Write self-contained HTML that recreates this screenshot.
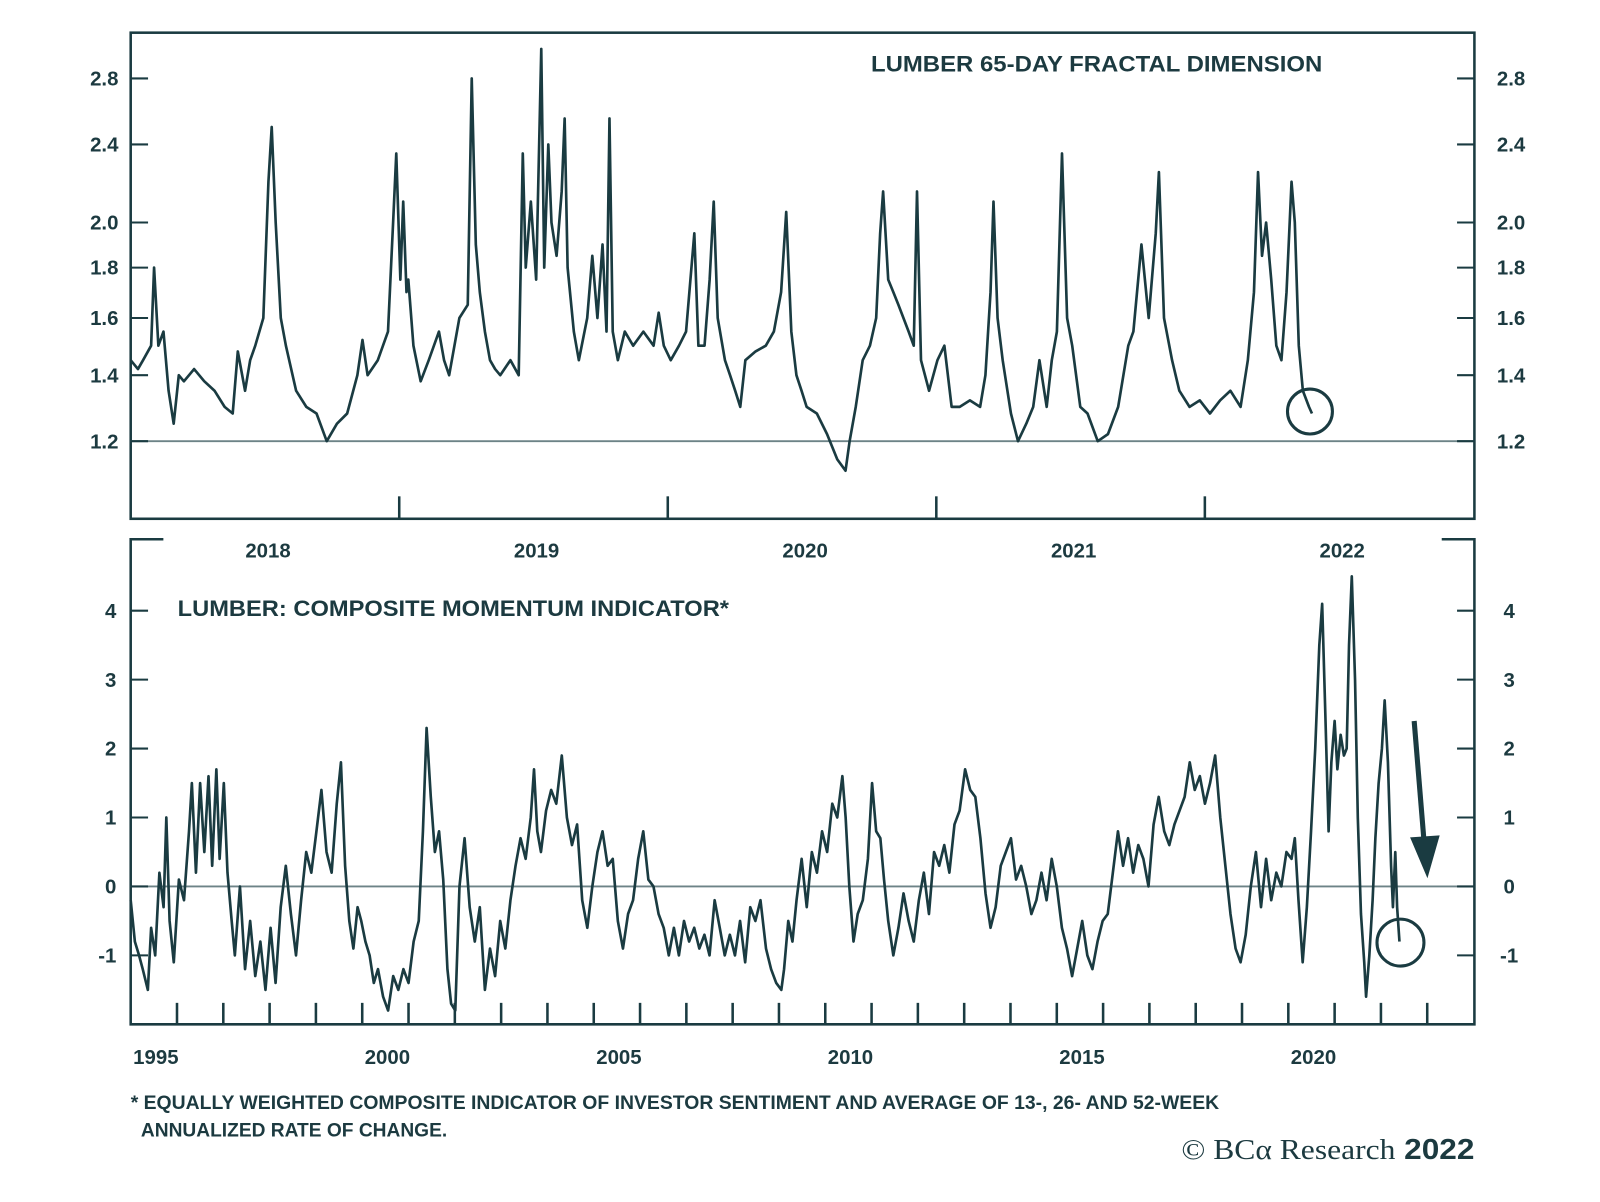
<!DOCTYPE html>
<html><head><meta charset="utf-8"><style>
html,body{margin:0;padding:0;background:#fff;}
svg{display:block;}
text{font-family:"Liberation Sans",sans-serif;fill:#1c3a40;}
</style></head><body>
<svg id="chart" width="1600" height="1202" viewBox="0 0 1567 1177" preserveAspectRatio="none" xmlns="http://www.w3.org/2000/svg">
<g id="top"></g>
<g id="bot"></g>
<text x="853" y="70" font-size="22" font-weight="bold" textLength="442" lengthAdjust="spacingAndGlyphs">LUMBER 65-DAY FRACTAL DIMENSION</text>
<text x="174" y="603" font-size="22" font-weight="bold" textLength="540" lengthAdjust="spacingAndGlyphs">LUMBER: COMPOSITE MOMENTUM INDICATOR*</text>
<text x="128" y="1086" font-size="19" font-weight="bold" textLength="1066" lengthAdjust="spacingAndGlyphs">* EQUALLY WEIGHTED COMPOSITE INDICATOR OF INVESTOR SENTIMENT AND AVERAGE OF 13-, 26- AND 52-WEEK</text>
<text x="138" y="1113" font-size="19" font-weight="bold" textLength="300" lengthAdjust="spacingAndGlyphs">ANNUALIZED RATE OF CHANGE.</text>
<text x="1157" y="1135" font-size="28" textLength="287" lengthAdjust="spacingAndGlyphs"><tspan font-family="Liberation Serif,serif">© BCα Research</tspan> <tspan font-weight="bold">2022</tspan></text>
</svg>
<script>
// ---- top panel data (fractal dimension) ----
const topStartYear=2017.5;
const topOffsets=[0,.027,.046,.076,.087,.103,.122,.141,.160,.179,.198,.236,.274,.312,.350,.380,.399,.426,.445,.464,.494,.513,.525,.540,.559,.578,.616,.654,.692,.730,.768,.806,.844,.863,.882,.920,.958,.977,.989,1.004,1.015,1.027,1.034,1.053,1.080,1.110,1.148,1.167,1.186,1.224,1.255,1.270,1.285,1.300,1.319,1.338,1.357,1.376,1.414,1.445,1.460,1.471,1.490,1.510,1.529,1.540,1.555,1.567,1.586,1.605,1.616,1.627,1.650,1.669,1.700,1.719,1.738,1.757,1.772,1.783,1.795,1.814,1.840,1.871,1.909,1.947,1.966,1.985,2.011,2.042,2.068,2.099,2.114,2.137,2.156,2.171,2.186,2.213,2.232,2.251,2.270,2.289,2.327,2.365,2.395,2.422,2.441,2.460,2.479,2.498,2.517,2.555,2.593,2.631,2.662,2.677,2.700,2.726,2.753,2.776,2.791,2.802,2.821,2.840,2.859,2.897,2.916,2.928,2.943,2.973,3.004,3.030,3.057,3.087,3.125,3.163,3.183,3.202,3.213,3.228,3.247,3.278,3.304,3.335,3.361,3.384,3.411,3.430,3.449,3.468,3.487,3.506,3.536,3.563,3.601,3.639,3.677,3.715,3.734,3.764,3.791,3.817,3.829,3.848,3.878,3.905,3.943,3.981,4.019,4.057,4.095,4.133,4.160,4.183,4.198,4.213,4.228,4.247,4.266,4.285,4.304,4.323,4.335,4.350,4.365,4.388,4.399];
const topValues=[1.45,1.42,1.45,1.5,1.8,1.5,1.55,1.35,1.25,1.4,1.38,1.42,1.38,1.35,1.3,1.28,1.48,1.35,1.45,1.5,1.6,2.2,2.5,2.0,1.6,1.5,1.35,1.3,1.28,1.2,1.25,1.28,1.4,1.52,1.4,1.45,1.55,2.0,2.35,1.75,2.1,1.7,1.75,1.5,1.38,1.45,1.55,1.45,1.4,1.6,1.65,2.8,1.9,1.7,1.55,1.45,1.42,1.4,1.45,1.4,2.35,1.8,2.1,1.75,3.0,1.8,2.4,2.0,1.85,2.15,2.55,1.8,1.55,1.45,1.6,1.85,1.6,1.9,1.55,2.55,1.55,1.45,1.55,1.5,1.55,1.5,1.62,1.5,1.45,1.5,1.55,1.95,1.5,1.5,1.75,2.1,1.6,1.45,1.4,1.35,1.3,1.45,1.48,1.5,1.55,1.7,2.05,1.55,1.4,1.35,1.3,1.28,1.22,1.15,1.12,1.2,1.3,1.45,1.5,1.6,1.95,2.15,1.75,1.7,1.65,1.55,1.5,2.15,1.45,1.35,1.45,1.5,1.3,1.3,1.32,1.3,1.4,1.7,2.1,1.6,1.45,1.28,1.2,1.25,1.3,1.45,1.3,1.45,1.55,2.35,1.6,1.5,1.3,1.28,1.2,1.22,1.3,1.5,1.55,1.9,1.6,1.95,2.25,1.6,1.45,1.35,1.3,1.32,1.28,1.32,1.35,1.3,1.45,1.7,2.25,1.85,2.0,1.75,1.5,1.45,1.7,2.2,2.0,1.5,1.35,1.3,1.28];
const topYTicks=[1.2,1.4,1.6,1.8,2.0,2.4,2.8];
const topYLabels=["1.2","1.4","1.6","1.8","2.0","2.4","2.8"];
const topXLabels=["2018","2019","2020","2021","2022"];
const topXLabelYears=[2018,2019,2020,2021,2022];
const topXTickYears=[2018.5,2019.5,2020.5,2021.5];
// ---- bottom panel data (momentum) ----
const botDates=[1995.00,1995.09,1995.18,1995.26,1995.37,1995.44,1995.53,1995.62,1995.71,1995.77,1995.84,1995.93,1996.04,1996.15,1996.26,1996.32,1996.41,1996.50,1996.59,1996.68,1996.76,1996.85,1996.92,1997.01,1997.09,1997.18,1997.25,1997.36,1997.47,1997.58,1997.69,1997.80,1997.91,1998.02,1998.13,1998.24,1998.35,1998.46,1998.57,1998.68,1998.79,1998.90,1999.01,1999.12,1999.23,1999.34,1999.45,1999.54,1999.63,1999.72,1999.81,1999.90,1999.98,2000.07,2000.16,2000.25,2000.34,2000.45,2000.56,2000.67,2000.78,2000.89,2001.00,2001.11,2001.22,2001.31,2001.39,2001.48,2001.57,2001.66,2001.75,2001.84,2001.92,2002.01,2002.10,2002.21,2002.32,2002.43,2002.54,2002.65,2002.76,2002.87,2002.98,2003.09,2003.20,2003.31,2003.42,2003.53,2003.64,2003.71,2003.78,2003.86,2003.97,2004.08,2004.19,2004.31,2004.42,2004.53,2004.64,2004.75,2004.86,2004.97,2005.08,2005.19,2005.30,2005.41,2005.52,2005.63,2005.74,2005.85,2005.96,2006.07,2006.18,2006.29,2006.40,2006.51,2006.62,2006.73,2006.84,2006.95,2007.06,2007.17,2007.28,2007.39,2007.50,2007.61,2007.72,2007.83,2007.94,2008.05,2008.16,2008.27,2008.38,2008.49,2008.60,2008.72,2008.83,2008.94,2009.05,2009.11,2009.20,2009.29,2009.38,2009.49,2009.60,2009.71,2009.82,2009.93,2010.04,2010.15,2010.26,2010.37,2010.44,2010.52,2010.61,2010.70,2010.81,2010.92,2011.01,2011.10,2011.19,2011.27,2011.36,2011.47,2011.58,2011.69,2011.80,2011.91,2012.02,2012.13,2012.24,2012.35,2012.46,2012.57,2012.68,2012.79,2012.90,2013.02,2013.13,2013.24,2013.35,2013.46,2013.57,2013.68,2013.79,2013.90,2014.01,2014.12,2014.23,2014.34,2014.45,2014.56,2014.67,2014.78,2014.89,2015.00,2015.11,2015.22,2015.33,2015.44,2015.55,2015.66,2015.77,2015.88,2015.99,2016.10,2016.21,2016.32,2016.43,2016.54,2016.65,2016.76,2016.87,2016.98,2017.09,2017.20,2017.32,2017.43,2017.54,2017.65,2017.76,2017.87,2017.98,2018.09,2018.20,2018.31,2018.42,2018.53,2018.64,2018.75,2018.86,2018.97,2019.08,2019.19,2019.30,2019.41,2019.52,2019.63,2019.74,2019.85,2019.96,2020.07,2020.14,2020.22,2020.31,2020.40,2020.49,2020.58,2020.67,2020.73,2020.80,2020.87,2020.93,2021.00,2021.06,2021.13,2021.20,2021.26,2021.31,2021.37,2021.44,2021.50,2021.57,2021.64,2021.68,2021.75,2021.82,2021.88,2021.95,2022.02,2022.08,2022.15,2022.22,2022.26,2022.31,2022.35,2022.40];
const botValues=[-0.2,-0.8,-1.0,-1.2,-1.5,-0.6,-1.0,0.2,-0.3,1.0,-0.5,-1.1,0.1,-0.2,0.8,1.5,0.2,1.5,0.5,1.6,0.3,1.7,0.4,1.5,0.2,-0.5,-1.0,0.0,-1.2,-0.5,-1.3,-0.8,-1.5,-0.6,-1.4,-0.3,0.3,-0.4,-1.0,-0.2,0.5,0.2,0.8,1.4,0.5,0.2,1.2,1.8,0.3,-0.5,-0.9,-0.3,-0.5,-0.8,-1.0,-1.4,-1.2,-1.6,-1.8,-1.3,-1.5,-1.2,-1.4,-0.8,-0.5,0.8,2.3,1.3,0.5,0.8,0.1,-1.2,-1.7,-1.8,0.0,0.7,-0.3,-0.8,-0.3,-1.5,-0.9,-1.3,-0.5,-0.9,-0.2,0.3,0.7,0.4,1.0,1.7,0.8,0.5,1.1,1.4,1.2,1.9,1.0,0.6,0.9,-0.2,-0.6,0.0,0.5,0.8,0.3,0.4,-0.5,-0.9,-0.4,-0.2,0.4,0.8,0.1,0.0,-0.4,-0.6,-1.0,-0.6,-1.0,-0.5,-0.8,-0.6,-0.9,-0.7,-1.0,-0.2,-0.6,-1.0,-0.7,-1.0,-0.5,-1.1,-0.3,-0.5,-0.2,-0.9,-1.2,-1.4,-1.5,-1.2,-0.5,-0.8,-0.2,0.4,-0.3,0.5,0.2,0.8,0.5,1.2,1.0,1.6,1.0,0.0,-0.8,-0.4,-0.2,0.4,1.5,0.8,0.7,0.1,-0.5,-1.0,-0.6,-0.1,-0.5,-0.8,-0.2,0.2,-0.4,0.5,0.3,0.6,0.2,0.9,1.1,1.7,1.4,1.3,0.7,-0.1,-0.6,-0.3,0.3,0.5,0.7,0.1,0.3,0.0,-0.4,-0.2,0.2,-0.2,0.4,0.0,-0.6,-0.9,-1.3,-0.9,-0.5,-1.0,-1.2,-0.8,-0.5,-0.4,0.2,0.8,0.3,0.7,0.2,0.6,0.4,0.0,0.9,1.3,0.8,0.6,0.9,1.1,1.3,1.8,1.4,1.6,1.2,1.5,1.9,1.0,0.3,-0.4,-0.9,-1.1,-0.7,0.0,0.5,-0.3,0.4,-0.2,0.2,0.0,0.5,0.4,0.7,-0.2,-1.1,-0.3,0.8,2.0,3.5,4.1,2.5,0.8,1.8,2.4,1.7,2.2,1.9,2.0,3.5,4.5,3.0,1.0,-0.4,-1.1,-1.6,-1.0,-0.2,0.7,1.5,2.0,2.7,1.8,0.3,-0.3,0.5,-0.3,-0.8];
const botYTicks=[-1,0,1,2,3,4];
const botYLabels=["-1","0","1","2","3","4"];
const botXLabels=["1995","2000","2005","2010","2015","2020"];
const botXLabelYears=[1995.5,2000.5,2005.5,2010.5,2015.5,2020.5];
const botTickYears=[1996,1997,1998,1999,2000,2001,2002,2003,2004,2005,2006,2007,2008,2009,2010,2011,2012,2013,2014,2015,2016,2017,2018,2019,2020,2021,2022,2023];

const NS="http://www.w3.org/2000/svg";
const C="#1a3b41";
function mk(tag,attrs,parent){const e=document.createElementNS(NS,tag);for(const k in attrs)e.setAttribute(k,attrs[k]);parent.appendChild(e);return e;}
const L=128,R=1444;
const T1=32,B1=508;
const T2=528,B2=1003;
const xTop=t=>L+(t-2017.5)*263;
const yTop=v=>432-(Math.log(v)-Math.log(1.2))*419.2;
const xBot=t=>L+(t-1995)*45.35;
const yBot=v=>868-v*67.5;

const gt=document.getElementById('top');
const gb=document.getElementById('bot');

let f=mk('rect',{x:L,y:T1,width:R-L,height:B1-T1,fill:'none',stroke:C,'stroke-width':2.5},gt);


let rl=mk('line',{x1:L,x2:R,y1:yTop(1.2),y2:yTop(1.2),stroke:'#6d8387','stroke-width':1.8},gt);


topYTicks.forEach((v,i)=>{
  const y=yTop(v);
  const a=mk('line',{x1:L,x2:L+17,y1:y,y2:y,stroke:C,'stroke-width':2},gt);
  
  
  const b=mk('line',{x1:R-17,x2:R,y1:y,y2:y,stroke:C,'stroke-width':2},gt);
  
  
  const t1=mk('text',{x:116,y:y+7,'font-size':20,'font-weight':'bold','text-anchor':'end'},gt);t1.textContent=topYLabels[i];
  
  
  const t2=mk('text',{x:1466,y:y+7,'font-size':20,'font-weight':'bold'},gt);t2.textContent=topYLabels[i];
  
  
});
topXTickYears.forEach(t=>{
  const x=xTop(t);
  const a=mk('line',{x1:x,x2:x,y1:B1-22,y2:B1,stroke:C,'stroke-width':2.5},gt);
  
  
});
topXLabelYears.forEach((t,i)=>{
  const tx=mk('text',{x:xTop(t)+3,y:546,'font-size':20,'font-weight':'bold','text-anchor':'middle'},gt);tx.textContent=topXLabels[i];
  
  
});
let d='';
const nTop=Math.min(topOffsets.length,topValues.length);
for(let i=0;i<nTop;i++){d+=(i?'L':'M')+xTop(topStartYear+topOffsets[i]).toFixed(1)+','+yTop(topValues[i]).toFixed(1);}
let p=mk('path',{d:d,fill:'none',stroke:C,'stroke-width':2.6,'stroke-linejoin':'round'},gt);


let c1=mk('circle',{cx:xTop(topStartYear+topOffsets[nTop-1])-2,cy:yTop(topValues[nTop-1])-2,r:22,fill:'none',stroke:C,'stroke-width':3},gt);



let fb=mk('path',{d:`M${L+32},${T2}H${L}V${B2}H${R}V${T2}H${R-32}`,fill:'none',stroke:C,'stroke-width':2.5},gb);


let zl=mk('line',{x1:L,x2:R,y1:yBot(0),y2:yBot(0),stroke:'#6d8387','stroke-width':1.8},gb);


botYTicks.forEach((v,i)=>{
  const y=yBot(v);
  const a=mk('line',{x1:L,x2:L+17,y1:y,y2:y,stroke:C,'stroke-width':2},gb);
  
  
  const b=mk('line',{x1:R-17,x2:R,y1:y,y2:y,stroke:C,'stroke-width':2},gb);
  
  
  const t1=mk('text',{x:114,y:y+7,'font-size':20,'font-weight':'bold','text-anchor':'end'},gb);t1.textContent=botYLabels[i];
  
  
  const t2=mk('text',{x:1478,y:y+7,'font-size':20,'font-weight':'bold','text-anchor':'middle'},gb);t2.textContent=botYLabels[i];
  
  
});
botTickYears.forEach(t=>{
  const x=xBot(t);
  const a=mk('line',{x1:x,x2:x,y1:B2-21,y2:B2,stroke:C,'stroke-width':2.5},gb);
  
  
});
botXLabelYears.forEach((t,i)=>{
  const tx=mk('text',{x:xBot(t)+2,y:1042,'font-size':20,'font-weight':'bold','text-anchor':'middle'},gb);tx.textContent=botXLabels[i];
  
  
});
d='';
botDates.forEach((t,i)=>{d+=(i?'L':'M')+xBot(t).toFixed(1)+','+yBot(botValues[i]).toFixed(1);});
p=mk('path',{d:d,fill:'none',stroke:C,'stroke-width':2.6,'stroke-linejoin':'round'},gb);


let c2=mk('circle',{cx:xBot(botDates[botDates.length-1])+1,cy:yBot(botValues[botValues.length-1])+1,r:23,fill:'none',stroke:C,'stroke-width':3},gb);


let ar=mk('line',{x1:1385,y1:706,x2:1395,y2:828,stroke:C,'stroke-width':5},gb);


let ah=mk('polygon',{points:'1381,820 1410,818 1398,860',fill:C},gb);


</script>
</body></html>
